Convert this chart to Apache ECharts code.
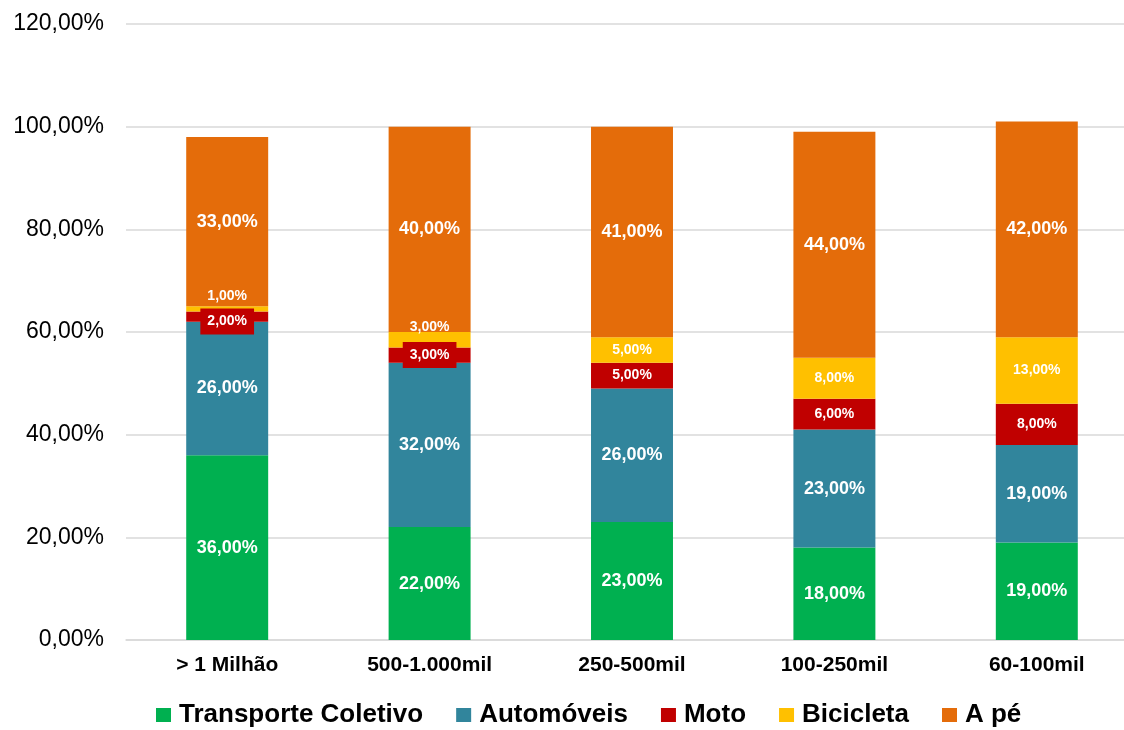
<!DOCTYPE html>
<html>
<head>
<meta charset="utf-8">
<script src="https://cdn.jsdelivr.net/npm/echarts@6/dist/echarts.min.js"></script>
<style>
  html, body { margin: 0; padding: 0; background: #ffffff; }
  #chart { width: 1124px; height: 730px; }
</style>
</head>
<body>
<div id="chart"></div>
<script>
// City size groups
const categories = ['> 1 Milhão', '500-1.000mil', '250-500mil', '100-250mil', '60-100mil'];

// Modal share (%) per transport mode
const transporteColetivo = [36, 22, 23, 18, 19];
const automoveis = [26, 32, 26, 23, 19];
const moto = [2, 3, 5, 6, 8];
const bicicleta = [1, 3, 5, 8, 13];
const aPe = [33, 40, 41, 44, 42];

const yTicks = { min: 0, max: 120, interval: 20 };

const fmt = v => Number(v).toFixed(2).replace('.', ',') + '%';
const FONT = 'Liberation Sans, Arial, sans-serif';

const bigLabel = {
  show: true, position: 'inside', color: '#ffffff', fontFamily: FONT,
  fontWeight: 'bold', fontSize: 18, formatter: p => fmt(p.value)
};
const smallLabel = Object.assign({}, bigLabel, { fontSize: 14 });

// Moto values: first two carry a filled box so the label stays readable on thin segments
const motoData = moto.map((v, i) => {
  if (i === 0) return { value: v, label: { backgroundColor: '#C00000', padding: [6, 7], offset: [0, 5] } };
  if (i === 1) return { value: v, label: { backgroundColor: '#C00000', padding: [6, 7] } };
  return v;
});
// Bicicleta values: thin segments get their label lifted above the segment
const bicicletaData = bicicleta.map((v, i) => (i < 2 ? { value: v, label: { offset: [0, -13] } } : v));

function bar(name, data, color, label) {
  return {
    name, type: 'bar', stack: 'total', data, barWidth: '40.5%',
    itemStyle: { color }, label, emphasis: { disabled: true }
  };
}

const chart = echarts.init(document.getElementById('chart'), null, { renderer: 'canvas' });
chart.setOption({
  animation: false,
  backgroundColor: '#ffffff',
  // the plot runs a little past the right edge of the canvas
  grid: { left: 126, top: 24, bottom: 90, width: 1012, containLabel: false, outerBoundsMode: 'none' },
  legend: {
    top: 697, left: 151, itemWidth: 15, itemHeight: 14, itemGap: 33,
    icon: 'rect',
    textStyle: { fontFamily: FONT, fontWeight: 'bold', fontSize: 26, color: '#000000', padding: [0, 0, 0, 3] },
    data: ['Transporte Coletivo', 'Automóveis', 'Moto', 'Bicicleta', 'A pé']
  },
  xAxis: {
    type: 'category', data: categories,
    axisLine: { lineStyle: { color: '#d9d9d9', width: 1.5 } },
    axisTick: { show: false },
    axisLabel: { color: '#000000', fontFamily: FONT, fontWeight: 'bold', fontSize: 21, margin: 15 }
  },
  yAxis: {
    type: 'value', min: yTicks.min, max: yTicks.max, interval: yTicks.interval,
    axisLine: { show: false }, axisTick: { show: false },
    splitLine: { lineStyle: { color: '#d9d9d9', width: 1.5 } },
    axisLabel: { color: '#000000', fontFamily: FONT, fontSize: 23, margin: 22, formatter: v => fmt(v) }
  },
  series: [
    bar('Transporte Coletivo', transporteColetivo, '#00B050', bigLabel),
    bar('Automóveis', automoveis, '#31859C', bigLabel),
    bar('Moto', motoData, '#C00000', smallLabel),
    bar('Bicicleta', bicicletaData, '#FFC000', smallLabel),
    bar('A pé', aPe, '#E46C0A', bigLabel)
  ]
});
</script>
</body>
</html>
